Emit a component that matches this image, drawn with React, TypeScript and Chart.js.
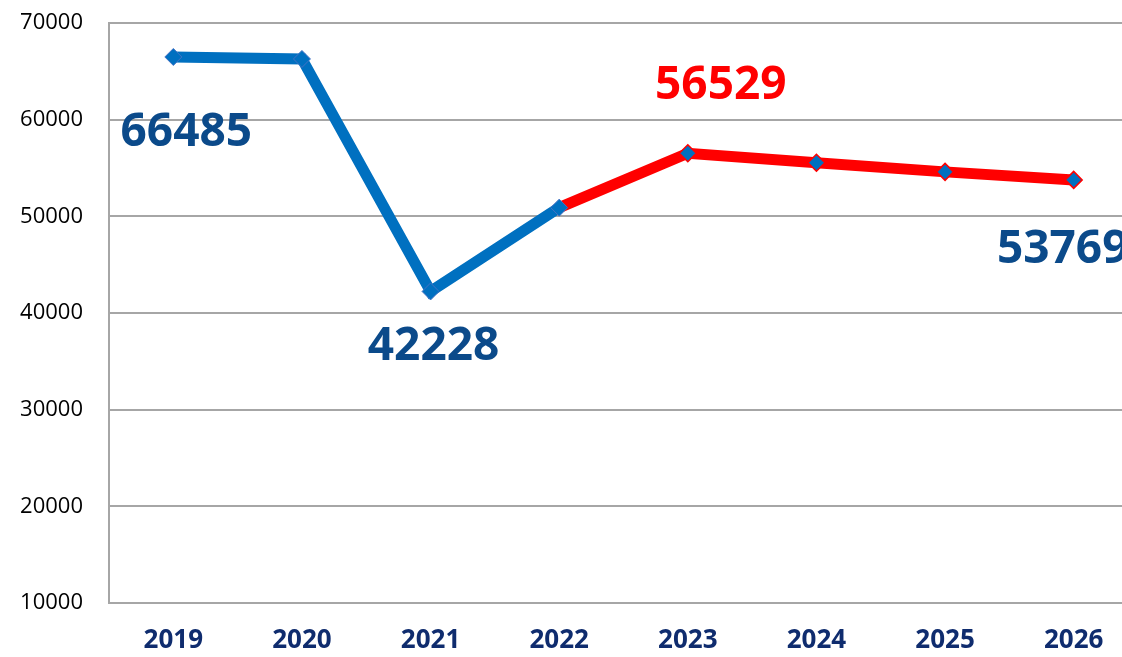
import React, { useEffect, useRef } from "react";
import { Chart, registerables } from "chart.js";

Chart.register(...registerables);

const years = ["2019", "2020", "2021", "2022", "2023", "2024", "2025", "2026"];
const actualValues = [66485, 66280, 42228, 50900, null, null, null, null];
const forecastValues = [null, null, null, 50900, 56529, 55540, 54600, 53769];
const yTicks = [10000, 20000, 30000, 40000, 50000, 60000, 70000];

// which points carry a printed value label
const labelledPoints = [
  { dataset: 0, index: 0, color: "#0b4a8a", dx: 13, dy: 76 },
  { dataset: 0, index: 2, color: "#0b4a8a", dx: 3, dy: 55 },
  { dataset: 1, index: 4, color: "#ff0000", dx: 33, dy: -67 },
  { dataset: 1, index: 7, color: "#0b4a8a", dx: -11, dy: 70 },
];

const valueLabelPlugin = {
  id: "valueLabels",
  afterDatasetsDraw(chart: any) {
    const ctx = chart.ctx;
    ctx.save();
    ctx.font = "bold 46px 'Open Sans', sans-serif";
    ctx.textAlign = "center";
    ctx.textBaseline = "middle";
    labelledPoints.forEach((lp) => {
      const meta = chart.getDatasetMeta(lp.dataset);
      const el = meta.data[lp.index];
      const v = chart.data.datasets[lp.dataset].data[lp.index];
      if (!el || v == null) return;
      ctx.fillStyle = lp.color;
      ctx.fillText(String(v), el.x + lp.dx, el.y + lp.dy);
    });
    ctx.restore();
  },
};

export default function App() {
  const canvasRef = useRef<HTMLCanvasElement | null>(null);

  useEffect(() => {
    document.body.style.margin = "0";
    const canvas = canvasRef.current;
    if (!canvas) return;
    const chart = new Chart(canvas, {
      type: "line",
      data: {
        labels: years,
        datasets: [
          {
            data: actualValues,
            borderColor: "#0070c0",
            borderWidth: 11,
            pointStyle: "rectRot",
            pointRadius: 8.5,
            pointBackgroundColor: "#0070c0",
            pointBorderColor: "#4472c4",
            pointBorderWidth: 1,
            spanGaps: false,
            borderJoinStyle: "miter",
          },
          {
            data: forecastValues,
            borderColor: "#ff0000",
            borderWidth: 11,
            pointStyle: "rectRot",
            pointRadius: [0, 0, 0, 0, 8.5, 8.5, 8.5, 8.5],
            pointBackgroundColor: "#0070c0",
            pointBorderColor: "#ff0000",
            pointBorderWidth: 1.5,
            spanGaps: false,
          },
        ],
      },
      options: {
        responsive: false,
        animation: false,
        layout: { padding: { top: 23, right: 0, left: 0, bottom: 0 } },
        plugins: {
          legend: { display: false },
          tooltip: { enabled: false },
        },
        scales: {
          x: {
            offset: true,
            grid: { display: false, drawTicks: false },
            border: { display: true, color: "#a6a6a6", width: 2 },
            ticks: {
              color: "#0f2c6e",
              font: { family: "'Open Sans', sans-serif", size: 26, weight: "bold" },
              padding: 22,
              maxRotation: 0,
            },
            afterFit: (s: any) => {
              s.height = 54;
              s.paddingLeft = 0;
              s.paddingRight = 0;
            },
          },
          y: {
            min: yTicks[0],
            max: yTicks[yTicks.length - 1],
            afterBuildTicks: (s: any) => {
              s.ticks = yTicks.map((v) => ({ value: v }));
            },
            grid: { color: "#a6a6a6", lineWidth: 2, drawTicks: false },
            border: { display: true, color: "#a6a6a6", width: 2 },
            ticks: {
              color: "#000000",
              font: { family: "'Open Sans', sans-serif", size: 22 },
              padding: 26,
              callback: (v: any) => String(v),
            },
            afterFit: (s: any) => {
              s.width = 109;
              s.paddingTop = 0;
              s.paddingBottom = 0;
            },
          },
        },
      },
      plugins: [valueLabelPlugin],
    });
    return () => chart.destroy();
  }, []);

  return (
    <div
      style={{
        position: "absolute",
        left: 0,
        top: 0,
        width: 1122,
        height: 657,
        overflow: "hidden",
        background: "#ffffff",
      }}
    >
      <canvas ref={canvasRef} width={1148} height={657} />
    </div>
  );
}
